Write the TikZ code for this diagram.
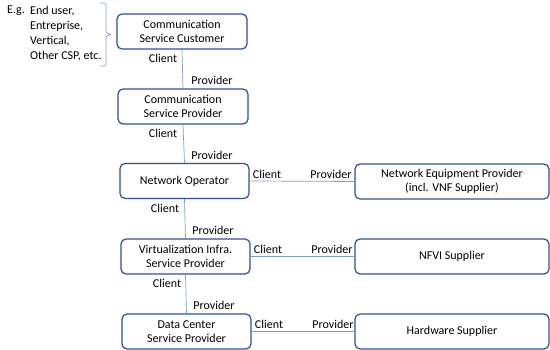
\documentclass[tikz,border=0pt]{standalone}
\usepackage{fontspec}
\setmainfont{Carlito}
\usepackage{tikz}
\usepackage{xcolor}
\usetikzlibrary{calc, positioning}
\definecolor{boxblue}{HTML}{2F528F}
\definecolor{lineblue}{HTML}{7F9CCF}
\tikzset{
  role/.style={draw=boxblue, line width=1.2pt, rounded corners=5pt, minimum height=35pt, align=center, inner sep=0pt},
  link/.style={draw=lineblue, line width=0.7pt},
  tag/.style={inner sep=0pt}
}

\begin{document}
\begin{tikzpicture}[x=1pt, y=-1pt, font=\fontsize{12}{14.5}\selectfont]
                        \useasboundingbox (0, 0) rectangle (550, 350);
                        \node[role, minimum width=130pt] (csc) at (182, 31.5) {Communication\\Service Customer};
                        \node[role, minimum width=130pt] (csp) at (183, 106.5) {Communication\\Service Provider};
                        \node[role, minimum width=129pt] (no) at (184.5, 181) {Network Operator};
                        \node[role, minimum width=129pt] (visp) at (185.5, 256.5) {Virtualization Infra.\\Service Provider};
                        \node[role, minimum width=129pt] (dcsp) at (186.5, 331.5) {Data Center\\Service Provider};
                        \node[role, minimum width=194pt] (nep) at (452, 181.5) {Network Equipment Provider\\(incl. VNF Supplier)};
                        \node[role, minimum width=194pt] (nfvi) at (452, 256.5) {NFVI Supplier};
                        \node[role, minimum width=194pt] (hw) at (452, 331.5) {Hardware Supplier};
                        \node[tag] (c1) at (163, 58) {Client};
                        \node[tag] (p1) at (212, 80) {Provider};
                        \node[tag] (c2) at (163, 133) {Client};
                        \node[tag] (p2) at (212, 155) {Provider};
                        \node[tag] (c3) at (165, 208) {Client};
                        \node[tag] (p3) at (213, 230) {Provider};
                        \node[tag] (c4) at (167, 283) {Client};
                        \node[tag] (p4) at (214, 305) {Provider};
                        \node[tag] (c5) at (267, 174) {Client};
                        \node[tag] (p5) at (331, 174) {Provider};
                        \node[tag] (c6) at (268, 249) {Client};
                        \node[tag] (p6) at (332, 249) {Provider};
                        \node[tag] (c7) at (269, 324) {Client};
                        \node[tag] (p7) at (333, 324) {Provider};
                        \node[tag, anchor=north west] (eg) at (7, 6) {E.g.};
                        \node[tag, anchor=north west, align=left, font=\fontsize{12}{15}\selectfont] (ex) at (30, 6) {End user,\\Entreprise,\\Vertical,\\Other CSP, etc.};
                        \coordinate (bt) at (100, 3);
                        \coordinate (bb) at (100, 66);
                        \draw[link]
                        (csc.south) -- (csp.north)
                        (csp.south) -- (no.north)
                        (no.south) -- (visp.north)
                        (visp.south) -- (dcsp.north)
                        (no.east) -- (nep.west)
                        (visp.east) -- (nfvi.west)
                        (dcsp.east) -- (hw.west);
                        \draw[link, rounded corners=1.5pt]
                        (bt) -- ++(6, 0) -- ++(0, 30) -- ++(5, 1.5)
                        (bb) -- ++(6, 0) -- ++(0, -30) -- ++(5, -1.5);
                    \end{tikzpicture}
\end{document}
